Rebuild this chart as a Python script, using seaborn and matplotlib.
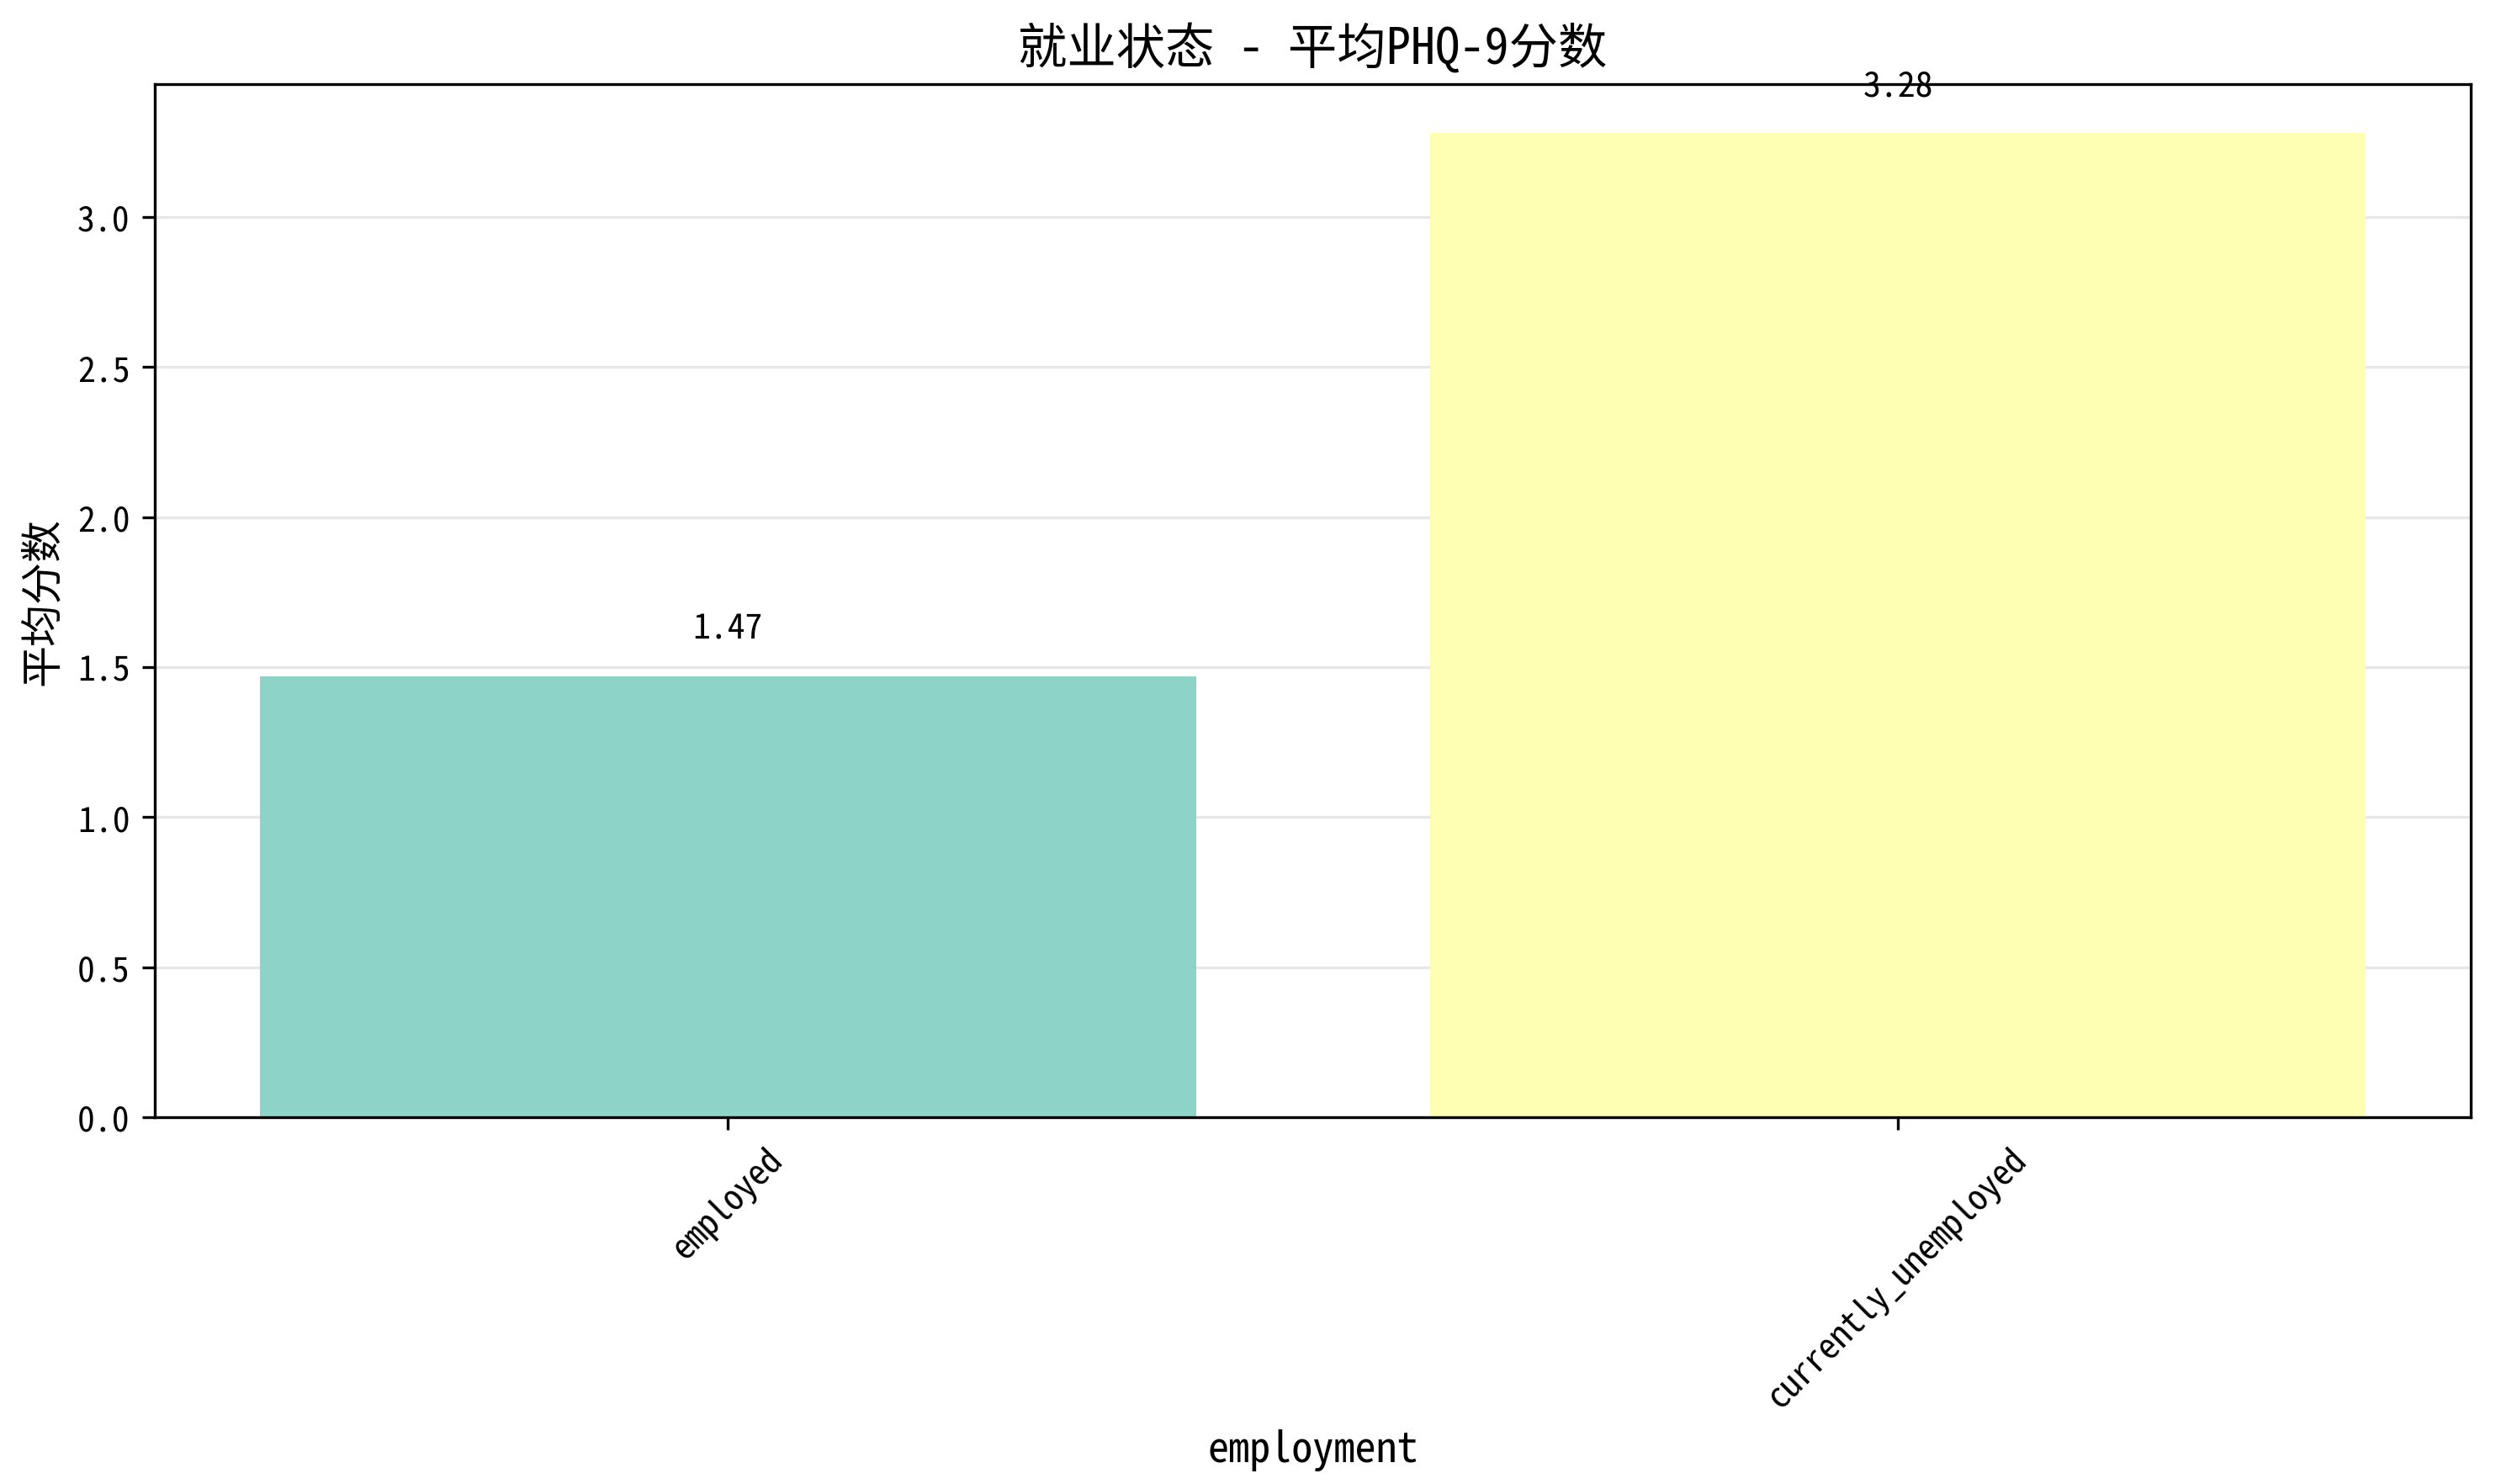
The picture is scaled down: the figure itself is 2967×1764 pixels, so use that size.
import matplotlib
matplotlib.use("Agg")
import matplotlib.pyplot as plt
import seaborn as sns
import pandas as pd

# mean PHQ-9 score by employment status
employment = ['employed', 'currently_unemployed']
mean_score = [1.47, 3.28]
bar_colors = ['#8dd3c7', '#ffffb3']

plt.rcParams['font.family'] = ['Noto Sans Mono CJK SC', 'Noto Sans CJK SC', 'DejaVu Sans']
plt.rcParams['axes.unicode_minus'] = False

df = pd.DataFrame({'employment': employment, 'score': mean_score})

fig, ax = plt.subplots(figsize=(9.89, 5.883), dpi=300)
fig.subplots_adjust(left=0.062, right=0.99, top=0.943, bottom=0.247)

sns.barplot(data=df, x='employment', y='score', hue='employment',
            palette=bar_colors, width=0.8, saturation=1, legend=False, ax=ax)

for i, v in enumerate(mean_score):
    ax.text(i, v + 0.1, f'{v:.2f}', ha='center', va='bottom', fontsize=10)

ax.set_xlim(-0.49, 1.49)
ax.set_ylim(0, max(mean_score) * 1.05)
ax.set_title('就业状态 - 平均PHQ-9分数', fontsize=14)
ax.set_xlabel('employment', fontsize=12)
ax.set_ylabel('平均分数', fontsize=12)
ax.tick_params(axis='x', labelrotation=45)
ax.yaxis.grid(True, alpha=0.3)
ax.set_axisbelow(True)

fig.savefig('out.png', dpi=300)
